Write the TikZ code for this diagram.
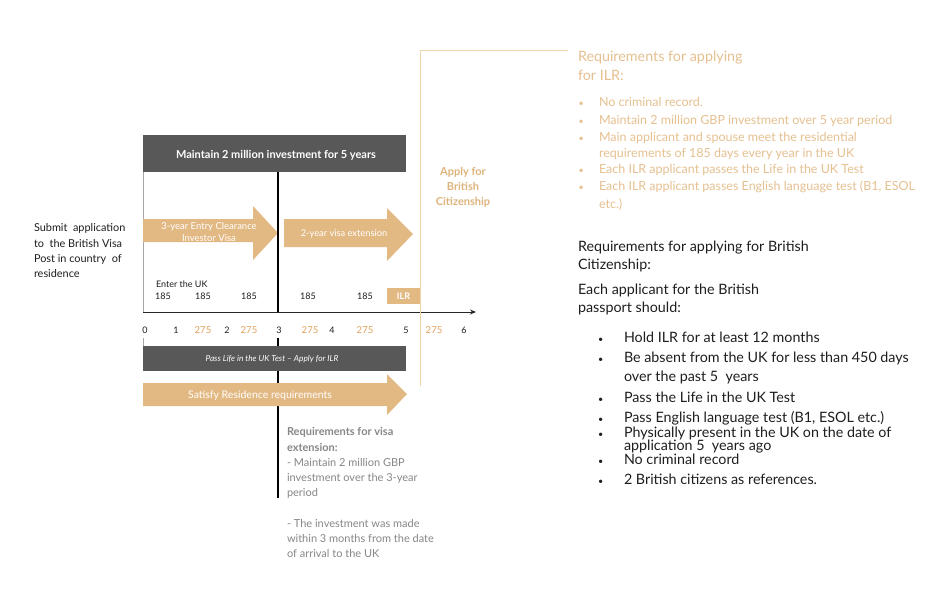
\documentclass[tikz,border=0pt]{standalone}
\usepackage{fontspec}
\setmainfont{Lato}
\usetikzlibrary{arrows.meta}
\definecolor{tanfill}{RGB}{227,185,131}
\definecolor{darkbox}{RGB}{88,88,88}
\definecolor{orangetxt}{RGB}{226,160,92}
\definecolor{applytxt}{RGB}{222,180,124}
\definecolor{ilrtxt}{RGB}{230,192,144}
\definecolor{greytxt}{RGB}{135,135,135}
\definecolor{frameline}{RGB}{240,212,176}
\definecolor{bodytxt}{RGB}{30,30,30}
\begin{document}
\begin{tikzpicture}[x=1pt,y=-1pt,
  txt/.style={inner sep=0pt, outer sep=0pt, anchor=base west},
  ctxt/.style={inner sep=0pt, outer sep=0pt, anchor=base},
  tick/.style={ctxt, font=\fontsize{9}{11}\selectfont, text=bodytxt},
  otick/.style={ctxt, font=\fontsize{9.5}{11}\selectfont, text=orangetxt},
  arrowshape/.style={fill=tanfill, draw=none},
  greybox/.style={fill=darkbox, draw=none},
  ilritem/.style={txt, font=\fontsize{12.5}{16}\selectfont, text=ilrtxt},
  citem/.style={txt, font=\fontsize{14.3}{14.5}\selectfont, text=bodytxt},
  bul/.style={txt, font=\fontsize{9}{10}\selectfont},
]
\useasboundingbox[fill=white] (0,0) rectangle (952,590);

% top dark box
\fill[greybox] (143,135) rectangle (406,172);
\node[ctxt, text=white, font=\bfseries\fontsize{11}{12}\selectfont] (maintain) at (276,158) {Maintain 2 million investment for 5 years};

% left border and axis
\draw[gray!70, line width=0.8pt] (143,172) -- (143,312);
\coordinate (axs) at (143,312);
\coordinate (axe) at (476,312);
\draw[black!85, line width=0.9pt, -{Stealth[length=6pt,width=5pt]}] (axs) -- (axe);

% orange frame
\coordinate (fr1) at (568,50);
\coordinate (fr2) at (420,50);
\coordinate (fr3) at (420,386);
\draw[frameline, line width=0.9pt] (fr1) -- (fr2) -- (fr3);

% arrows
\fill[arrowshape] (143,219) -- (253,219) -- (253,206) -- (278,233) -- (253,260) -- (253,242) -- (143,242) -- cycle;
\node[ctxt, align=center, text=white, font=\fontsize{9.5}{12}\selectfont] (entry) at (209,241.5) {3-year Entry Clearance\\Investor Visa};
\fill[arrowshape] (284,219) -- (387,219) -- (387,208) -- (413,234) -- (387,261) -- (387,247) -- (284,247) -- cycle;
\node[ctxt, text=white, font=\fontsize{9.3}{11.5}\selectfont] (ext) at (344,236.5) {2-year visa extension};

% thick line
\draw[black, line width=2.6pt] (278,172) -- (278,312);
\draw[black, line width=2.6pt] (278,338) -- (278,498);

% timeline texts
\node[txt, font=\fontsize{9}{11}\selectfont, text=bodytxt] (enter) at (156,287) {Enter the UK};
\foreach \x [count=\i] in {163,203,249,308,365}
  \node[tick] (d\i) at (\x,299.5) {185};
\fill[tanfill] (387,288) rectangle (420,304);
\node[ctxt, text=white, font=\bfseries\fontsize{9}{10}\selectfont] (ilr) at (403.5,299.5) {ILR};

% axis labels
\node[tick] (t0) at (145,333.5) {0};
\node[tick] (t1) at (176,333.5) {1};
\node[otick] (o1) at (203,333.5) {275};
\node[tick] (t2) at (227,333.5) {2};
\node[otick] (o2) at (249,333.5) {275};
\node[tick] (t3) at (279,333.5) {3};
\node[otick] (o3) at (310,333.5) {275};
\node[tick] (t4) at (332,333.5) {4};
\node[otick] (o4) at (365,333.5) {275};
\node[tick] (t5) at (406,333.5) {5};
\node[otick] (o5) at (434,333.5) {275};
\node[tick] (t6) at (464,333.5) {6};

% lower boxes
\draw[gray!70, line width=0.8pt] (143,338) -- (143,346);
\fill[greybox] (143,346) rectangle (406,371);
\node[ctxt, text=white, font=\itshape\fontsize{8.3}{9}\selectfont] (pass) at (272,361) {Pass Life in the UK Test -- Apply for ILR};
\fill[arrowshape] (143,383) -- (387,383) -- (387,374) -- (407,394) -- (387,415) -- (387,406) -- (143,406) -- cycle;
\node[ctxt, text=white, font=\fontsize{10.5}{12}\selectfont] (satisfy) at (260,398.5) {Satisfy Residence requirements};

% visa extension requirements
\node[txt, align=left, text=greytxt, font=\fontsize{11}{15.2}\selectfont] (visareq) at (287,557.5)
 {\textbf{Requirements for visa}\\\textbf{extension:}\\- Maintain 2 million GBP\\investment over the 3-year\\period\\[15.2pt]- The investment was made\\within 3 months from the date\\of arrival to the UK};

% left text
\node[txt, align=left, text=bodytxt, font=\fontsize{10.9}{15.2}\selectfont] (submit) at (34,277.5)
 {Submit \ application\\to \ the British Visa\\Post in country \ of\\residence};

% Apply for British Citizenship
\node[ctxt, align=center, text=applytxt, font=\bfseries\fontsize{11}{15}\selectfont] (apply) at (463,205)
 {Apply for\\British\\Citizenship};

% ILR requirements
\node[txt, align=left, text=ilrtxt, font=\fontsize{14.3}{18.5}\selectfont] (ilrhead) at (578,80)
 {Requirements for applying\\for ILR:};
\foreach \y/\t [count=\i] in {106/No criminal record.,124.5/Maintain 2 million GBP investment over 5 year period,141/Main applicant and spouse meet the residential,173/Each ILR applicant passes the Life in the UK Test,190.5/Each ILR applicant passes English language test (B1{,} ESOL}
{
  \node[bul, text=ilrtxt] (ib\i) at (578.5,\y) {•};
  \node[ilritem] (ii\i) at (599,\y) {\t};
}
\node[ilritem] (ic1) at (599,157.5) {requirements of 185 days every year in the UK};
\node[ilritem] (ic2) at (599,208) {etc.)};

% Citizenship requirements
\node[txt, align=left, text=bodytxt, font=\fontsize{14.3}{18}\selectfont] (cithead) at (578,269)
 {Requirements for applying for British\\Citizenship:};
\node[txt, align=left, text=bodytxt, font=\fontsize{14.3}{18}\selectfont] (each) at (578,312)
 {Each applicant for the British\\passport should:};
\foreach \y/\t [count=\i] in {342.5/Hold ILR for at least 12 months,362.5/Be absent from the UK for less than 450 days,402.5/Pass the Life in the UK Test,422/Pass English language test (B1{,} ESOL etc.),437/Physically present in the UK on the date of,464.5/No criminal record,484.5/2 British citizens as references.}
{
  \node[bul, text=bodytxt] (cb\i) at (598,\y) {•};
  \node[citem] (ci\i) at (624,\y) {\t};
}
\node[citem] (cc1) at (624,381.5) {over the past 5 \ years};
\node[citem] (cc2) at (624,450.5) {application 5 \ years ago};

\end{tikzpicture}
\end{document}
